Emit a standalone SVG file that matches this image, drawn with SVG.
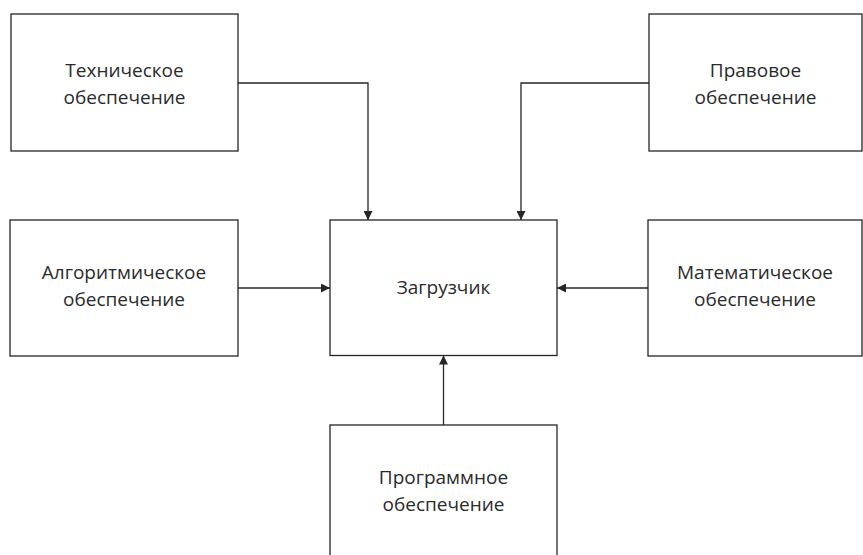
<svg xmlns="http://www.w3.org/2000/svg" width="863" height="555" viewBox="0 0 863 555">
<style>
.box{fill:#fff;stroke:#262626;stroke-width:1.3}
.lbl{font-family:"Open Sans","Liberation Sans",sans-serif;font-size:19px;fill:#2a2a2a;text-anchor:middle}
.con{fill:none;stroke:#262626;stroke-width:1.3}
</style>
<defs>
<marker id="ah" viewBox="0 0 10 10" refX="10" refY="5" markerWidth="10" markerHeight="9" markerUnits="userSpaceOnUse" orient="auto">
<path d="M0,0 L10,5 L0,10 Z" fill="#262626"/>
</marker>
</defs>
<rect width="863" height="555" fill="#fff"/>
<g id="tech"><rect class="box" x="11" y="14" width="227" height="137"/>
<text class="lbl" x="124.5" y="77">Техническое</text><text class="lbl" x="124.5" y="104">обеспечение</text></g>
<g id="prav"><rect class="box" x="649" y="14" width="213" height="137"/>
<text class="lbl" x="755.5" y="77">Правовое</text><text class="lbl" x="755.5" y="104">обеспечение</text></g>
<g id="alg"><rect class="box" x="10" y="220" width="228" height="136"/>
<text class="lbl" x="124" y="279">Алгоритмическое</text><text class="lbl" x="124" y="306">обеспечение</text></g>
<g id="zagr"><rect class="box" x="330" y="220" width="227" height="135.5"/>
<text class="lbl" x="443.5" y="294">Загрузчик</text></g>
<g id="mat"><rect class="box" x="648" y="220" width="214" height="136"/>
<text class="lbl" x="755" y="279">Математическое</text><text class="lbl" x="755" y="306">обеспечение</text></g>
<g id="prog"><rect class="box" x="330" y="425" width="227" height="140"/>
<text class="lbl" x="443.5" y="484">Программное</text><text class="lbl" x="443.5" y="511">обеспечение</text></g>
<g id="connectors">
<path class="con" d="M238,83 H368 V220" marker-end="url(#ah)"/>
<path class="con" d="M649,83 H521 V220" marker-end="url(#ah)"/>
<path class="con" d="M238,288 H330" marker-end="url(#ah)"/>
<path class="con" d="M648,288 H557" marker-end="url(#ah)"/>
<path class="con" d="M443.5,425 V355.5" marker-end="url(#ah)"/>
</g>
</svg>
